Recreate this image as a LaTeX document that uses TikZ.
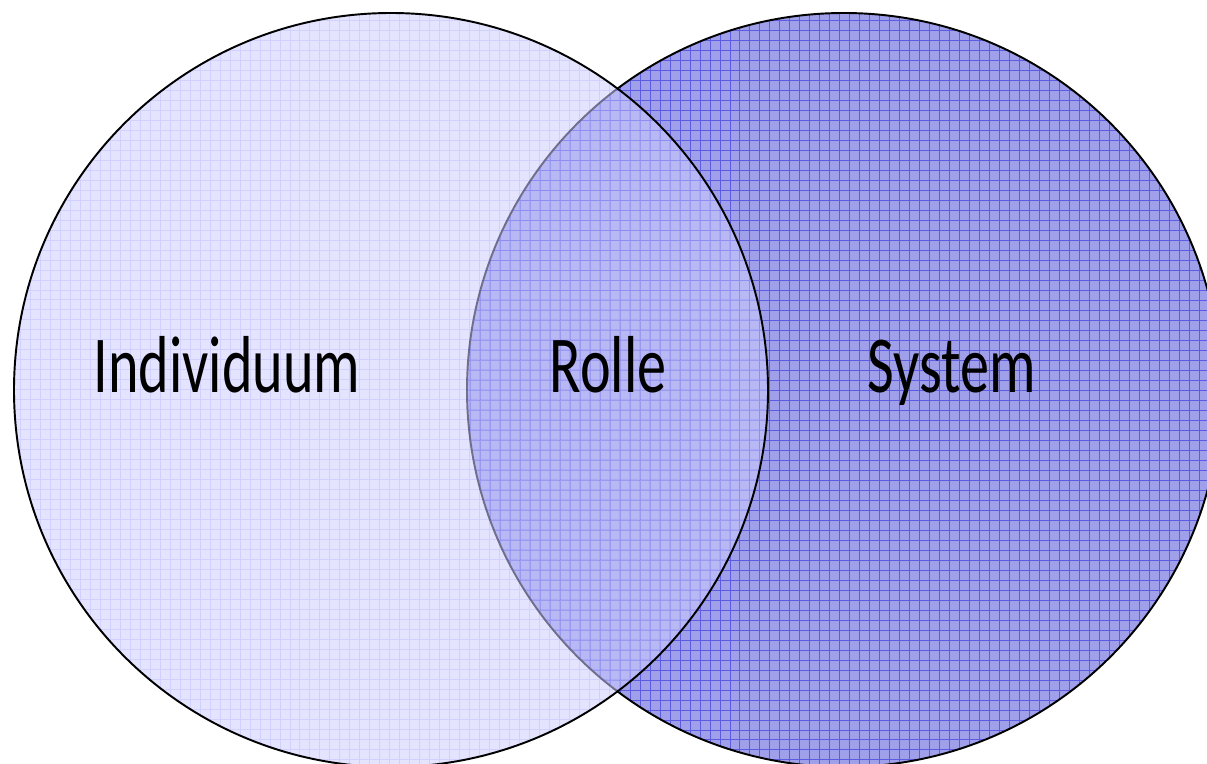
\documentclass[tikz,border=0pt]{standalone}
\usepackage{fontspec}
\setmainfont{Carlito}
\usetikzlibrary{positioning}
\definecolor{sysfill}{RGB}{160,160,234}
\definecolor{sysgrid}{RGB}{92,92,226}
\definecolor{indfill}{RGB}{205,205,255}
\newcommand{\narrowtext}[1]{\scalebox{0.72}[1]{#1}}
\begin{document}
\begin{tikzpicture}[
    x=0.02cm, y=-0.02cm,
    outline/.style={draw=black, line width=1.1pt},
    settext/.style={font=\fontsize{46}{50}\selectfont, anchor=base, inner sep=0pt}
]
\useasboundingbox (0,0) rectangle (1207,764);

\coordinate (sys) at (844,390);
\coordinate (ind) at (391,390);

% System (drawn first, underneath)
\begin{scope}
  \clip (sys) circle[radius=377];
  \fill[sysfill] (sys) circle[radius=377];
  \draw[sysgrid, line width=0.4pt, step=0.2cm] (460,0) grid (1230,780);
\end{scope}
\draw[outline] (sys) circle[radius=377];

% Individuum (transparent, on top)
\fill[indfill, fill opacity=0.55] (ind) circle[radius=377];
\begin{scope}
  \clip (ind) circle[radius=377];
  \draw[blue, opacity=0.08, line width=0.5pt, step=0.2cm] (0,0) grid (780,780);
\end{scope}
\draw[outline] (ind) circle[radius=377];

\node[settext] (individuum) at (227,392) {\narrowtext{Individuum}};
\node[settext] (rolle) at (608,392) {\narrowtext{Rolle}};
\node[settext] (system) at (952,392) {\narrowtext{System}};

\end{tikzpicture}
\end{document}
